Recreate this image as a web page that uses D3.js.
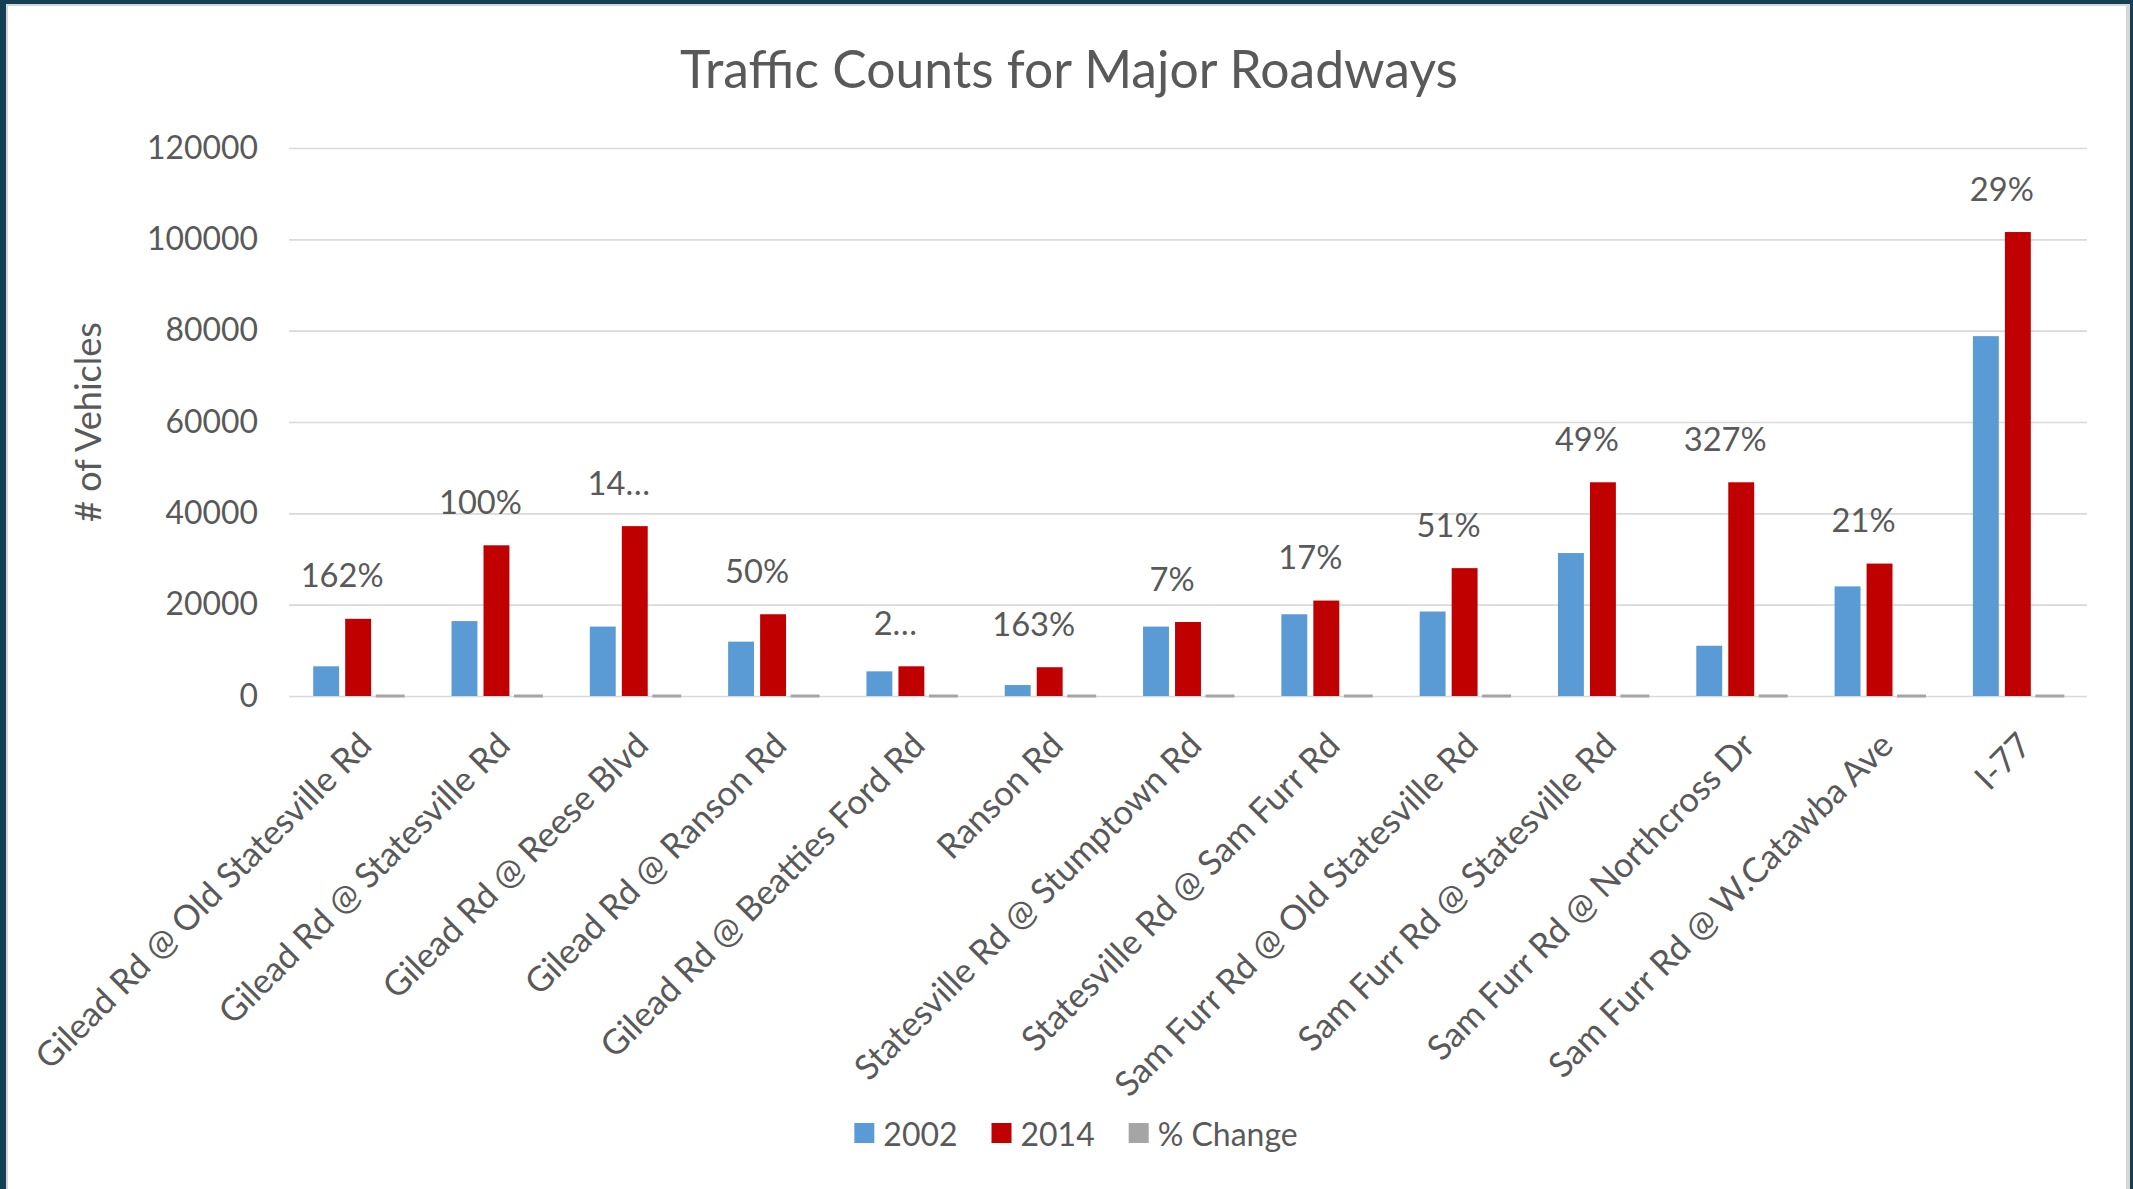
<!DOCTYPE html>
<html><head><meta charset="utf-8">
<script src="https://cdn.jsdelivr.net/npm/d3@7/dist/d3.min.js"></script>
<style>
html,body{margin:0;padding:0;background:#fff;overflow:hidden;}
svg{display:block;}
text{font-family:Lato,"Open Sans",sans-serif;fill:#595959;}
</style></head><body>
<svg id="chart" width="2133" height="1189"></svg>
<script>
const categories = [
  "Gilead Rd @ Old Statesville Rd",
  "Gilead Rd @ Statesville Rd",
  "Gilead Rd @ Reese Blvd",
  "Gilead Rd @ Ranson Rd",
  "Gilead Rd @ Beatties Ford Rd",
  "Ranson Rd",
  "Statesville Rd @ Stumptown Rd",
  "Statesville Rd @ Sam Furr Rd",
  "Sam Furr Rd @ Old Statesville Rd",
  "Sam Furr Rd @ Statesville Rd",
  "Sam Furr Rd @ Northcross Dr",
  "Sam Furr Rd @ W.Catawba Ave",
  "I-77"
];
const seriesNames = ["2002", "2014", "% Change"];
const values2002 = [6500, 16400, 15200, 11900, 5400, 2400, 15200, 17900, 18500, 31300, 11000, 24000, 78800];
const values2014 = [16900, 33000, 37200, 17900, 6500, 6300, 16200, 20900, 28000, 46800, 46800, 29000, 101600];
const pctChange = [1.62, 1.00, 1.45, 0.50, 0.21, 1.63, 0.07, 0.17, 0.51, 0.49, 3.27, 0.21, 0.29];
const pctLabels = ["162%", "100%", "14…", "50%", "2…", "163%", "7%", "17%", "51%", "49%", "327%", "21%", "29%"];
const yTicks = [0, 20000, 40000, 60000, 80000, 100000, 120000];
const titleText = "Traffic Counts for Major Roadways";
const yTitleText = "# of Vehicles";

const colors = {"2002": "#5B9BD5", "2014": "#C00000", "% Change": "#A5A5A5"};

const W = 2133, H = 1189;
const svg = d3.select("#chart");

// frame
svg.append("rect").attr("x", 0).attr("y", 0).attr("width", W).attr("height", H).attr("fill", "#153F55");
svg.append("rect").attr("x", 6).attr("y", 4).attr("width", 2124).attr("height", H - 4).attr("fill", "#D6D6D6");
svg.append("rect").attr("x", 8).attr("y", 6).attr("width", 2118).attr("height", H - 6).attr("fill", "#FFFFFF");

const plot = {left: 289, right: 2087, top: 148, bottom: 696};

const rows = categories.map((c, i) => ({
  cat: c,
  vals: [
    {s: "2002", v: values2002[i]},
    {s: "2014", v: values2014[i]},
    {s: "% Change", v: pctChange[i]}
  ],
  label: pctLabels[i]
}));

const y = d3.scaleLinear().domain([0, 120000]).range([plot.bottom, plot.top]);
const x0 = d3.scaleBand().domain(categories).range([plot.left, plot.right]).paddingInner(0.35).paddingOuter(0.175);
const x1 = d3.scaleBand().domain(seriesNames).range([0, x0.bandwidth()]).paddingInner(0.19);

function fitSize(sel, target) {
  sel.style("font-size", "100px");
  const len = sel.node().getComputedTextLength();
  return 100 * target / len;
}

// gridlines + y axis
const yAxis = d3.axisLeft(y).tickValues(yTicks).tickFormat(d3.format("d"))
  .tickSize(-(plot.right - plot.left)).tickPadding(31);
const gy = svg.append("g").attr("transform", `translate(${plot.left},0)`).call(yAxis);
gy.select(".domain").remove();
gy.selectAll(".tick line").attr("stroke", "#D9D9D9").attr("stroke-width", 1.6);
const tmp = svg.append("text").text("120000");
const tickSize = fitSize(tmp, 111);
tmp.remove();
gy.selectAll(".tick text").attr("fill", "#595959").style("font-family", "Lato,'Open Sans',sans-serif")
  .style("font-size", tickSize + "px");

// bars
const groups = svg.append("g").selectAll("g").data(rows).join("g")
  .attr("transform", d => `translate(${x0(d.cat)},0)`);
groups.selectAll("rect").data(d => d.vals).join("rect")
  .attr("x", d => x1(d.s))
  .attr("width", x1.bandwidth())
  .attr("y", d => y(d.v))
  .attr("height", d => y(0) - y(d.v))
  .attr("fill", d => colors[d.s])
  .attr("stroke", d => d.s === "% Change" ? colors[d.s] : "none")
  .attr("stroke-width", d => d.s === "% Change" ? 3 : 0);

// data labels (% change)
const tmp2 = svg.append("text").text("162%");
const dlSize = fitSize(tmp2, 83);
tmp2.remove();
svg.append("g").selectAll("text").data(rows).join("text")
  .attr("x", d => x0(d.cat) + (x1("2002") + x1("2014") + x1.bandwidth()) / 2)
  .attr("y", d => y(Math.max(d.vals[0].v, d.vals[1].v)) - 44)
  .attr("text-anchor", "middle")
  .attr("dominant-baseline", "central")
  .style("font-size", dlSize + "px")
  .text(d => d.label);

// category labels
const tmp3 = svg.append("text").text(categories[0]);
const catSize = fitSize(tmp3, 458);
tmp3.remove();
svg.append("g").selectAll("text").data(categories).join("text")
  .attr("transform", d => `translate(${x0(d) + x0.bandwidth() / 2 - 2},${plot.bottom + 34}) rotate(-45)`)
  .attr("text-anchor", "end")
  .attr("dy", "0.72em")
  .style("font-size", catSize + "px")
  .text(d => d);

// title
const title = svg.append("text").text(titleText);
const titleSize = fitSize(title, 778);
title.attr("x", 1069).attr("y", 88).attr("text-anchor", "middle").style("font-size", titleSize + "px");

// y-axis title
const yt = svg.append("text").text(yTitleText);
const ytSize = fitSize(yt, 200);
yt.attr("transform", "translate(87,422) rotate(-90)").attr("text-anchor", "middle")
  .attr("dominant-baseline", "central").style("font-size", ytSize + "px");

// legend
const tmp4 = svg.append("text").text("% Change");
const legSize = fitSize(tmp4, 140);
tmp4.remove();
const legend = svg.append("g");
let cx = 0;
seriesNames.forEach(s => {
  const g = legend.append("g");
  g.append("rect").attr("x", 0).attr("y", -10).attr("width", 20).attr("height", 20).attr("fill", colors[s]);
  const t = g.append("text").attr("x", 29).attr("y", 0).attr("dominant-baseline", "central")
    .style("font-size", legSize + "px").text(s);
  const w = 29 + t.node().getComputedTextLength();
  g.attr("transform", `translate(${cx},0)`);
  cx += w + 34;
});
const totalW = cx - 34;
legend.attr("transform", `translate(${1076 - totalW / 2},1133)`);
</script>
</body></html>
